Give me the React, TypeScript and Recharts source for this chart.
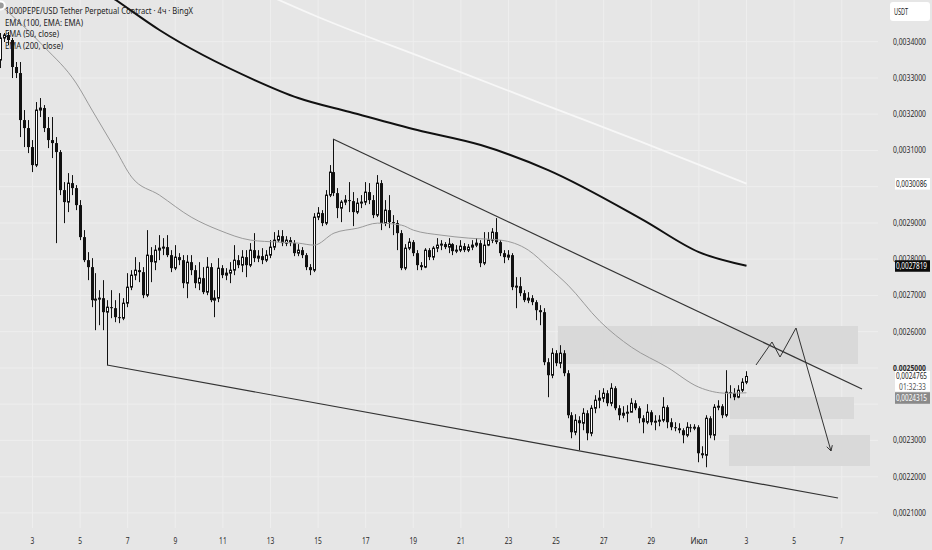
import React from 'react';
import {
  ComposedChart,
  Bar,
  Line,
  XAxis,
  YAxis,
  CartesianGrid,
  ReferenceLine,
  ReferenceArea,
} from 'recharts';

const W = 932;
const H = 550;
const BG = '#e6e6e6';
const FONT = '"Noto Sans", sans-serif';

// 4h candles from 1 June 16:00; time is in days (July = 30 + day)
const T0 = 1 + 16 / 24;
const STEP = 1 / 6;
// prices below are in units of 0.0000001 USDT
const SCALE = 1e7;

const firstOpen = 33494;

const closes = [
  34101, 34184, 34046, 33301, 33135, 31838, 31617, 31093, 30596, 32114,
  32169, 31617, 31286, 31203, 30955, 29906, 29575, 30099, 29961, 29492,
  28609, 27974, 27781, 26870, 26898, 26925, 26539, 26677, 26649, 26401,
  26373, 26787, 27229, 27560, 27698, 27643, 27008, 28112, 27919, 28250,
  28305, 28333, 28112, 27753, 28057, 27974, 27339, 27919, 27698, 27339,
  27477, 27091, 27781, 26870, 26925, 27753, 27560, 27615, 27698, 27974,
  27836, 28057, 27836, 28250, 28029, 28084, 27974, 28112, 28333, 28526,
  28636, 28443, 28526, 28443, 28167, 28250, 28112, 27781, 27698, 29161,
  29271, 28995, 29768, 30403, 29823, 29409, 29575, 29630, 29602, 29299,
  29547, 29575, 29851, 29630, 29216, 30099, 28995, 29354, 29023, 28995,
  28719, 27753, 28305, 28471, 28167, 27836, 27781, 28250, 28057, 28305,
  28388, 28416, 28333, 28416, 28222, 28250, 28360, 28250, 28333, 28388,
  28443, 27891, 28388, 28526, 28747, 28471, 28167, 28057, 28112, 27229,
  27256, 27063, 26870, 26925, 26815, 26594, 26539, 25159, 24800, 25407,
  25131, 25407, 24855, 23696, 23227, 23558, 23475, 23751, 23199, 23889,
  24110, 24165, 24303, 24027, 24441, 23889, 23696, 23751, 23779, 24027,
  23889, 23613, 23503, 23779, 23503, 23530, 23558, 23917, 23503, 23365,
  23337, 23282, 23144, 23365, 23337, 23365, 22647, 22592, 23613, 23144,
  23917, 23944, 23696, 24331, 24303, 24193, 24386, 24607, 24765,
];

const highs = [
  34239, 34239, 34267, 34101, 33439, 33439, 32114, 31838, 31286, 32335,
  32445, 32252, 31921, 31921, 31369, 31010, 30127, 30375, 30320, 30044,
  29630, 28802, 28195, 28029, 27615, 27146, 27422, 26870, 27146, 26870,
  27063, 26925, 27615, 27698, 28057, 27919, 27781, 28802, 28333, 28388,
  28664, 28581, 28664, 28250, 28388, 28167, 28112, 28112, 28112, 27836,
  27919, 27781, 28057, 27891, 27146, 28029, 27836, 27753, 27919, 28388,
  28112, 28250, 28250, 28443, 28719, 28250, 28305, 28250, 28526, 28747,
  28802, 28802, 28636, 28609, 28526, 28416, 28333, 28167, 27864, 29271,
  29437, 29354, 29906, 30596, 31314, 29961, 29630, 29768, 30127, 29851,
  29685, 29768, 30127, 30099, 29768, 30320, 30182, 29630, 29768, 29216,
  29078, 28802, 28416, 28581, 28526, 28250, 27919, 28305, 28305, 28360,
  28581, 28526, 28471, 28581, 28443, 28388, 28526, 28443, 28416, 28526,
  28581, 28526, 28747, 28747, 28857, 29133, 28526, 28250, 28250, 28167,
  27505, 27505, 27146, 27091, 27008, 26870, 26732, 26649, 25269, 25545,
  25490, 25628, 25490, 24938, 23779, 23724, 23668, 23889, 23834, 23972,
  24248, 24386, 24441, 24386, 24579, 24496, 23972, 23944, 23972, 24165,
  24110, 23944, 23696, 24000, 23834, 23696, 23696, 24193, 23972, 23613,
  23503, 23475, 23337, 23503, 23448, 23448, 23420, 22840, 23696, 23668,
  24000, 24110, 24000, 24938, 24524, 24441, 24524, 24717, 24910,
];

const lows = [
  33273, 33991, 33908, 32997, 32997, 31369, 31093, 30927, 30403, 30541,
  31921, 31507, 31065, 30789, 28443, 29768, 28995, 29299, 29768, 29354,
  28526, 27919, 27422, 26677, 26042, 26180, 26042, 25076, 26373, 26263,
  26235, 26318, 26677, 27146, 27422, 27367, 26925, 26953, 27367, 27698,
  27974, 28112, 28057, 27643, 27698, 27836, 27201, 26925, 27560, 27201,
  27146, 27036, 27008, 26815, 26401, 26815, 27477, 27422, 27339, 27560,
  27753, 27643, 27505, 27781, 27919, 27919, 27864, 27919, 28029, 28250,
  28471, 28360, 28360, 28360, 28084, 28084, 28029, 27698, 27560, 27643,
  29078, 28912, 28940, 29713, 29740, 29133, 29023, 29492, 29299, 28912,
  29244, 29409, 29492, 29520, 29133, 29161, 28802, 28912, 28857, 28664,
  28250, 27698, 27698, 28250, 28084, 27698, 27698, 27753, 27974, 27974,
  28195, 28250, 28278, 28167, 28112, 28167, 28195, 28195, 28195, 28250,
  28333, 27781, 27836, 28360, 28443, 28416, 28084, 27891, 27974, 27146,
  26649, 26980, 26815, 26787, 26732, 26318, 26180, 25076, 24193, 24717,
  25048, 24993, 24772, 23613, 23061, 23144, 22730, 23282, 23006, 23116,
  23751, 23889, 24055, 23944, 23944, 23834, 23558, 23613, 23503, 23779,
  23834, 23475, 23199, 23448, 23420, 23282, 23392, 23503, 23337, 23282,
  23254, 23199, 22923, 23089, 23227, 23282, 22399, 22509, 22261, 23061,
  23006, 23834, 23613, 23641, 24165, 24110, 24165, 24331, 24552,
];

// EMA values read at a few candles; the line is drawn through them
const ema200Idx = [0, 29, 40, 64, 75, 88, 105, 121, 138, 162, 176, 188];
const ema200Val = [37248, 35150, 34322, 32942, 32445, 32059, 31562, 31148, 30458, 29078, 28195, 27819];
const ema100Idx = [60, 80, 108, 136, 161, 188];
const ema100Val = [35647, 34681, 33494, 32307, 31258, 30086];
const ema50Idx = [0, 11, 19, 23, 29, 33, 40, 48, 55, 63, 70, 75, 79, 84, 90, 95, 101, 104, 111, 118, 126, 133, 138, 143, 151, 159, 168, 176, 183, 188];
const ema50Val = [35000, 33853, 32859, 32114, 31010, 30265, 29768, 29161, 28802, 28526, 28471, 28443, 28388, 28719, 28857, 28995, 28940, 28802, 28664, 28581, 28526, 28250, 27781, 27284, 26290, 25573, 25021, 24469, 24303, 24315];

const dayTicks = [3, 5, 7, 9, 11, 13, 15, 17, 19, 21, 23, 25, 27, 29, 31, 33, 35, 37];
const gridPrices = [21, 22, 23, 24, 25, 26, 27, 28, 29, 30, 31, 32, 33, 34].map((v) => v / 1e4);
// 0.0030 and 0.0024 sit under the value tags, so they are not printed
const hiddenPrices = [0.003, 0.0024];
const shownPrices = gridPrices.filter((v) => !hiddenPrices.some((h) => Math.abs(v - h) < 1e-9));

// drawings on the chart
const upperTrendT = [15.626, 37.853];
const upperTrendP = [31316, 24419];
const lowerTrendT = [6.13, 36.845];
const lowerTrendP = [25081, 21412];
const zoneT1 = [25.08, 32.307, 32.265];
const zoneT2 = [37.685, 37.517, 38.189];
const zoneTop = [26157, 24198, 23150];
const zoneBottom = [25109, 23591, 22295];
const zigT = [33.399, 34.071, 34.408, 35.08, 36.55];
const zigP = [25081, 25716, 25302, 26102, 22709];

const X_MIN = 1.6345;
const X_MAX = 38.525;
const Y_MIN = 0.0020585;
const Y_MAX = 0.003515;

const rows: any[] = closes.map((c, i) => {
  const o = i === 0 ? firstOpen : closes[i - 1];
  const hi = Math.max(highs[i], o, c);
  const lo = Math.min(lows[i], o, c);
  return {
    t: T0 + i * STEP,
    open: o / SCALE,
    close: c / SCALE,
    high: hi / SCALE,
    low: lo / SCALE,
    range: [lo / SCALE, hi / SCALE],
  };
});
ema200Idx.forEach((k, j) => { rows[k].ema200 = ema200Val[j] / SCALE; });
ema100Idx.forEach((k, j) => { rows[k].ema100 = ema100Val[j] / SCALE; });
ema50Idx.forEach((k, j) => { rows[k].ema50 = ema50Val[j] / SCALE; });

const lastClose = closes[closes.length - 1] / SCALE;
// shift: the gray tag is pushed down so it does not cover the countdown
const tags = [
  { value: ema100Val[ema100Val.length - 1] / SCALE, bg: '#ffffff', fg: '#222', shift: 0 },
  { value: ema200Val[ema200Val.length - 1] / SCALE, bg: '#0c0c0c', fg: '#fff', shift: 0 },
  { value: lastClose, bg: '#ffffff', fg: '#222', sub: '01:32:33', shift: 0 },
  { value: ema50Val[ema50Val.length - 1] / SCALE, bg: '#8a8a8a', fg: '#fff', shift: 5 },
];
const axisTicks = [...shownPrices, ...tags.map((t) => t.value)];

const fmt = (v: number) => v.toFixed(7).replace('.', ',');

function PriceTick(props: any) {
  const { y, payload } = props;
  const v = payload.value;
  const tag = tags.find((t) => Math.abs(t.value - v) < 1e-10);
  if (!tag) {
    const bold = Math.abs(v - 0.0025) < 1e-10;
    return (
      <text x={926} y={y + 3} textAnchor="end" fontSize={9} fontFamily={FONT}
        fill="#2a2a2a" fontWeight={bold ? 700 : 400}
        textLength={33} lengthAdjust="spacingAndGlyphs">
        {fmt(v)}
      </text>
    );
  }
  const cy = y + tag.shift;
  const h = tag.sub ? 20.5 : 11.5;
  return (
    <g>
      <rect x={895} y={cy - 5.5} width={35} height={h} fill={tag.bg} />
      <text x={927} y={cy + 3} textAnchor="end" fontSize={9} fontFamily={FONT}
        fill={tag.fg} textLength={31} lengthAdjust="spacingAndGlyphs">
        {fmt(v)}
      </text>
      {tag.sub && (
        <text x={926} y={cy + 13.5} textAnchor="end" fontSize={9} fontFamily={FONT}
          fill="#555" textLength={27} lengthAdjust="spacingAndGlyphs">
          {tag.sub}
        </text>
      )}
    </g>
  );
}

function DayTick(props: any) {
  const { x, payload } = props;
  const d = payload.value;
  const label = d <= 30 ? String(d) : d === 31 ? 'Июл' : String(d - 30);
  const len = label === 'Июл' ? 17 : label.length * 3.8;
  return (
    <text x={x} y={544} textAnchor="middle" fontSize={9} fontFamily={FONT}
      fill="#2a2a2a" textLength={len} lengthAdjust="spacingAndGlyphs">
      {label}
    </text>
  );
}

function Candle(props: any) {
  const { x, y, width, height, payload } = props;
  if (x == null || !payload) return null;
  const top = Math.min(y, y + height);
  const bottom = Math.max(y, y + height);
  const span = payload.high - payload.low;
  const k = span > 0 ? (bottom - top) / span : 0;
  const yO = top + (payload.high - payload.open) * k;
  const yC = top + (payload.high - payload.close) * k;
  const bTop = Math.min(yO, yC);
  const bh = Math.max(Math.abs(yC - yO), 1);
  const cx = Math.round(x + width / 2) + 0.5;
  const up = payload.close >= payload.open;
  return (
    <g>
      <line x1={cx} x2={cx} y1={top} y2={bottom} stroke="#111" strokeWidth={1} />
      {up ? (
        <rect x={cx - 1} y={bTop} width={2} height={bh} fill="#fff" stroke="#111" strokeWidth={1} />
      ) : (
        <rect x={cx - 1.5} y={bTop} width={3} height={bh} fill="#111" />
      )}
    </g>
  );
}

function ArrowLine(props: any) {
  const { x1, y1, x2, y2 } = props;
  if (x1 == null || y1 == null) return null;
  const a = Math.atan2(y2 - y1, x2 - x1);
  const L = 6;
  const s = 0.5;
  const w1 = `${x2 - L * Math.cos(a - s)},${y2 - L * Math.sin(a - s)}`;
  const w2 = `${x2 - L * Math.cos(a + s)},${y2 - L * Math.sin(a + s)}`;
  return (
    <g>
      <line x1={x1} y1={y1} x2={x2} y2={y2} stroke="#333" strokeWidth={1} />
      <polyline points={`${w1} ${x2},${y2} ${w2}`} fill="none" stroke="#333" strokeWidth={1} />
    </g>
  );
}

export default function App() {
  const zigSegments = zigT.slice(1).map((t, i) => ({
    a: { x: zigT[i], y: zigP[i] / SCALE },
    b: { x: t, y: zigP[i + 1] / SCALE },
    last: i === zigT.length - 2,
  }));

  return (
    <div style={{ position: 'absolute', left: 0, top: 0, width: W, height: H, background: BG, overflow: 'hidden' }}>
      <ComposedChart width={W} height={H} data={rows} margin={{ top: 0, right: 0, bottom: 0, left: 0 }}>
        <CartesianGrid stroke="#eeeeee" horizontalValues={gridPrices} verticalValues={dayTicks} />
        <XAxis
          type="number"
          dataKey="t"
          domain={[X_MIN, X_MAX]}
          ticks={dayTicks}
          interval={0}
          height={22}
          axisLine={false}
          tickLine={false}
          tick={<DayTick />}
          allowDataOverflow
        />
        <YAxis
          orientation="right"
          type="number"
          domain={[Y_MIN, Y_MAX]}
          ticks={axisTicks}
          interval={0}
          width={54}
          axisLine={false}
          tickLine={false}
          tick={<PriceTick />}
          allowDataOverflow
        />
        {zoneT1.map((t1, i) => (
          <ReferenceArea
            key={`zone-${i}`}
            x1={t1}
            x2={zoneT2[i]}
            y1={zoneBottom[i] / SCALE}
            y2={zoneTop[i] / SCALE}
            fill="#d9d9d9"
            fillOpacity={1}
            stroke="none"
            ifOverflow="hidden"
          />
        ))}
        <Line dataKey="ema100" stroke="#f7f7f7" strokeWidth={1.8} dot={false} connectNulls type="monotone" isAnimationActive={false} />
        <Line dataKey="ema200" stroke="#111" strokeWidth={2} dot={false} connectNulls type="monotone" isAnimationActive={false} />
        <Line dataKey="ema50" stroke="#9a9a9a" strokeWidth={1} dot={false} connectNulls type="monotone" isAnimationActive={false} />
        <Bar dataKey="range" barSize={3} shape={<Candle />} isAnimationActive={false} />
        <ReferenceLine
          segment={[{ x: upperTrendT[0], y: upperTrendP[0] / SCALE }, { x: upperTrendT[1], y: upperTrendP[1] / SCALE }]}
          stroke="#333"
          strokeWidth={1.2}
          ifOverflow="hidden"
        />
        <ReferenceLine
          segment={[{ x: lowerTrendT[0], y: lowerTrendP[0] / SCALE }, { x: lowerTrendT[1], y: lowerTrendP[1] / SCALE }]}
          stroke="#333"
          strokeWidth={1.2}
          ifOverflow="hidden"
        />
        {zigSegments.map((s, i) => (
          <ReferenceLine
            key={`zig-${i}`}
            segment={[s.a, s.b]}
            stroke="#333"
            strokeWidth={1}
            ifOverflow="hidden"
            shape={s.last ? ArrowLine : undefined}
          />
        ))}
      </ComposedChart>
      <svg width={W} height={H} style={{ position: 'absolute', left: 0, top: 0, pointerEvents: 'none' }}>
        <g fontFamily={FONT} fill="#1c1c1c" fontSize={9.5}>
          <text x={5} y={13.5} textLength={188} lengthAdjust="spacingAndGlyphs">
            1000PEPE/USD Tether Perpetual Contract · 4ч · BingX
          </text>
          <text x={5} y={25.5} textLength={78} lengthAdjust="spacingAndGlyphs">EMA (100, EMA: EMA)</text>
          <text x={5} y={37} textLength={54} lengthAdjust="spacingAndGlyphs">EMA (50, close)</text>
          <text x={5} y={48.5} textLength={58} lengthAdjust="spacingAndGlyphs">EMA (200, close)</text>
        </g>
        <rect x={890} y={2} width={40} height={19} rx={3} fill="#ffffff" />
        <text x={894} y={15} fontFamily={FONT} fontSize={8.5} fill="#222" textLength={14} lengthAdjust="spacingAndGlyphs">
          USDT
        </text>
      </svg>
    </div>
  );
}
